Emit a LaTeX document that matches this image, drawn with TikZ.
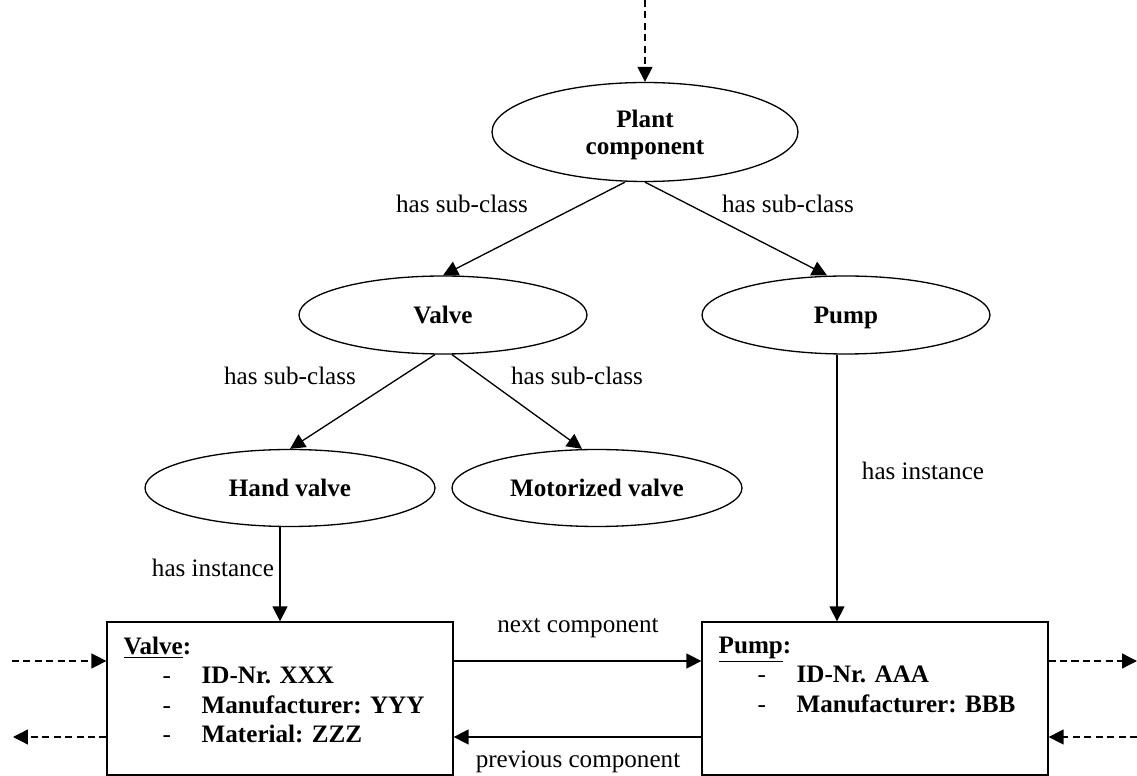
\documentclass[tikz,border=0pt]{standalone}
\usepackage{fontspec}
\setmainfont{Liberation Serif}
\usetikzlibrary{arrows.meta,shapes.geometric,positioning}

\newcommand{\attrline}[1]{\hspace*{0.78cm}\makebox[0.78cm][l]{\mdseries -}#1}

\begin{document}
\begin{tikzpicture}[x=0.02cm,y=-0.02cm,
	font=\fontsize{14.3}{16.85}\selectfont,
	cls/.style={shape=ellipse,draw=black,line width=0.75pt,inner sep=0pt,align=center,text depth=0pt,
		font=\fontsize{14.3}{15.5}\selectfont\bfseries},
	inst/.style={shape=rectangle,draw=black,line width=0.75pt,minimum width=6.92cm,minimum height=3.06cm},
	info/.style={inner sep=0pt,align=left,font=\fontsize{14.3}{16.85}\selectfont\bfseries},
	lbl/.style={inner sep=0pt,anchor=base},
	rel/.style={line width=0.75pt,-{Triangle[length=0.3cm,width=0.3cm]}},
	ext/.style={rel,dash pattern=on 4pt off 2.5pt}]
	\useasboundingbox (0,0) rectangle (1137,776);

	\node[cls,minimum width=6.12cm,minimum height=1.98cm] (plant) at (645,132) {Plant\\component};
	\node[cls,minimum width=5.76cm,minimum height=1.56cm] (valve) at (443,315) {Valve};
	\node[cls,minimum width=5.76cm,minimum height=1.56cm] (pump) at (846,315) {Pump};
	\node[cls,minimum width=5.8cm,minimum height=1.54cm] (hand) at (290,488) {Hand valve};
	\node[cls,minimum width=5.8cm,minimum height=1.54cm] (motor) at (597,488) {Motorized valve};

	\node[inst] (vbox) at (280,698.5) {};
	\node[inst] (pbox) at (875,698.5) {};
	\node[info,below right=0.3cm and 0.34cm of vbox.north west] (vtxt) {\underline{Valve}:\\
		\attrline{ID-Nr. XXX}\\
		\attrline{Manufacturer: YYY}\\
		\attrline{Material: ZZZ}};
	\node[info,below right=0.3cm and 0.34cm of pbox.north west] (ptxt) {\underline{Pump}:\\
		\attrline{ID-Nr. AAA}\\
		\attrline{Manufacturer: BBB}};

	\path[rel] ([xshift=-0.4cm]plant.south) edge (valve.north);
	\path[rel] (plant.south) edge ([xshift=-0.38cm]pump.north);
	\path[rel] ([xshift=-0.16cm]valve.south) edge (hand.north);
	\path[rel] ([xshift=0.18cm]valve.south) edge ([xshift=-0.3cm]motor.north);
	\path[rel] (vbox.north |- hand.south) edge (vbox.north);
	\coordinate (pin) at ([xshift=-0.18cm]pump.south);
	\path[rel] (pin) edge (pin |- pbox.north);
	\path[rel] ([yshift=0.75cm]vbox.east) edge ([yshift=0.75cm]pbox.west);
	\path[rel] ([yshift=-0.77cm]pbox.west) edge ([yshift=-0.77cm]vbox.east);

	\coordinate (src) at (645,0);
	\coordinate (inL) at (12,661);
	\coordinate (outL) at (13,737);
	\coordinate (outR) at (1137,661);
	\coordinate (inR) at (1137,737);
	\path[ext] (src) edge (plant.north);
	\path[ext] (inL) edge (inL -| vbox.west);
	\path[ext] (outL -| vbox.west) edge (outL);
	\path[ext] (outR -| pbox.east) edge (outR);
	\path[ext] (inR) edge (inR -| pbox.east);

	\node[lbl] (sub1) at (462,213) {has sub-class};
	\node[lbl] (sub2) at (788,213) {has sub-class};
	\node[lbl] (sub3) at (290,385) {has sub-class};
	\node[lbl] (sub4) at (577,385) {has sub-class};
	\node[lbl] (ins1) at (923,480) {has instance};
	\node[lbl] (ins2) at (213,577) {has instance};
	\node[lbl] (nxt) at (578,633) {next component};
	\node[lbl] (prv) at (578,768) {previous component};
\end{tikzpicture}
\end{document}
